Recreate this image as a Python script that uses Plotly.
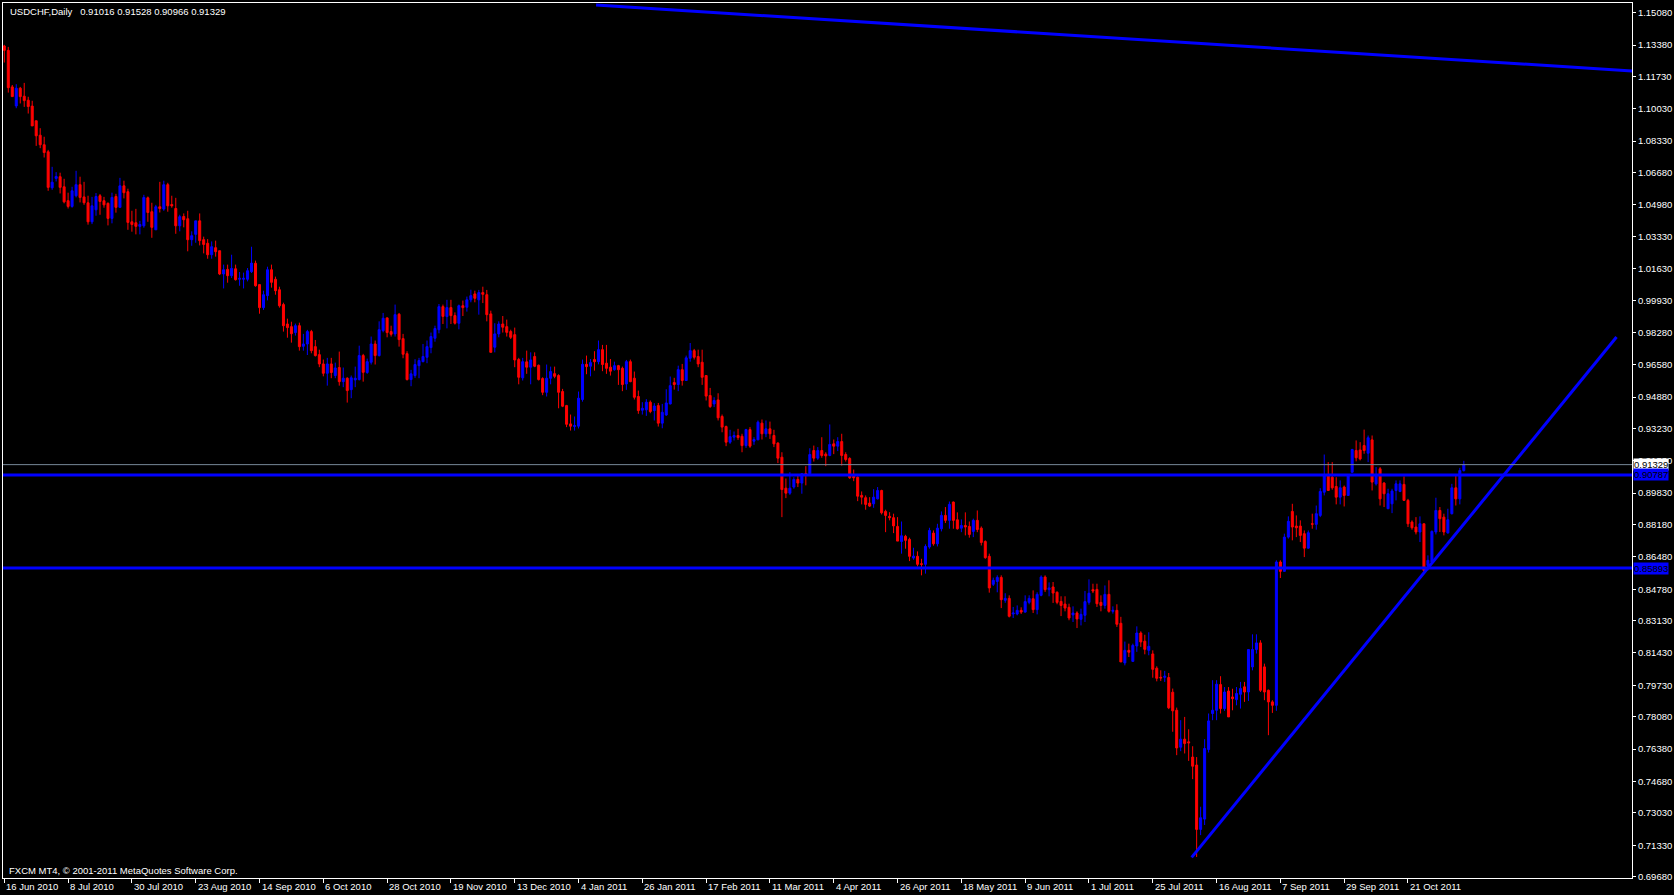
import plotly.graph_objects as go

# ---------------- data (USDCHF daily) ----------------
opens = [
    1.1333, 1.1310, 1.1118, 1.1018, 1.1111, 1.1069, 1.1048, 1.1017, 1.0940, 1.0864,
    1.0814, 1.0777, 1.0588, 1.0637, 1.0646, 1.0593, 1.0520, 1.0490, 1.0546, 1.0604,
    1.0540, 1.0509, 1.0409, 1.0472, 1.0546, 1.0520, 1.0506, 1.0427, 1.0542, 1.0485,
    1.0598, 1.0567, 1.0409, 1.0404, 1.0385, 1.0388, 1.0535, 1.0462, 1.0367, 1.0488,
    1.0476, 1.0604, 1.0500, 1.0479, 1.0388, 1.0437, 1.0425, 1.0315, 1.0343, 1.0414,
    1.0315, 1.0296, 1.0236, 1.0273, 1.0257, 1.0135, 1.0159, 1.0126, 1.0162, 1.0107,
    1.0107, 1.0107, 1.0147, 1.0191, 1.0079, 0.9958, 1.0021, 1.0157, 1.0107, 1.0052,
    0.9974, 0.9872, 0.9858, 0.9827, 0.9863, 0.9755, 0.9767, 0.9832, 0.9753, 0.9711,
    0.9662, 0.9613, 0.9662, 0.9601, 0.9643, 0.9569, 0.9587, 0.9527, 0.9578, 0.9580,
    0.9706, 0.9617, 0.9671, 0.9767, 0.9706, 0.9837, 0.9904, 0.9832, 0.9820, 0.9923,
    0.9795, 0.9716, 0.9580, 0.9601, 0.9653, 0.9674, 0.9697, 0.9748, 0.9797, 0.9842,
    0.9963, 0.9911, 0.9958, 0.9916, 0.9876, 0.9968, 0.9960, 0.9999, 1.0030, 0.9999,
    1.0037, 1.0026, 0.9925, 0.9750, 0.9820, 0.9872, 0.9858, 0.9832, 0.9816, 0.9685,
    0.9589, 0.9673, 0.9645, 0.9701, 0.9655, 0.9585, 0.9513, 0.9587, 0.9611, 0.9601,
    0.9517, 0.9443, 0.9347, 0.9333, 0.9335, 0.9475, 0.9660, 0.9650, 0.9685, 0.9674,
    0.9737, 0.9666, 0.9645, 0.9632, 0.9653, 0.9639, 0.9557, 0.9674, 0.9587, 0.9491,
    0.9419, 0.9421, 0.9461, 0.9417, 0.9443, 0.9351, 0.9394, 0.9452, 0.9564, 0.9554,
    0.9632, 0.9575, 0.9692, 0.9732, 0.9701, 0.9671, 0.9601, 0.9496, 0.9452, 0.9473,
    0.9386, 0.9333, 0.9251, 0.9277, 0.9286, 0.9282, 0.9233, 0.9317, 0.9256, 0.9263,
    0.9351, 0.9295, 0.9321, 0.9286, 0.9246, 0.9172, 0.9009, 0.8983, 0.9015, 0.9055,
    0.9036, 0.9085, 0.9085, 0.9207, 0.9167, 0.9207, 0.9188, 0.9181, 0.9242, 0.9230,
    0.9254, 0.9186, 0.9165, 0.9071, 0.9067, 0.8971, 0.8959, 0.8931, 0.8927, 0.8953,
    0.8997, 0.8887, 0.8861, 0.8854, 0.8808, 0.8729, 0.8756, 0.8740, 0.8642, 0.8651,
    0.8612, 0.8609, 0.8700, 0.8773, 0.8717, 0.8796, 0.8866, 0.8840, 0.8936, 0.8843,
    0.8799, 0.8813, 0.8808, 0.8782, 0.8840, 0.8799, 0.8729, 0.8651, 0.8504, 0.8519,
    0.8540, 0.8420, 0.8430, 0.8348, 0.8348, 0.8367, 0.8358, 0.8409, 0.8428, 0.8371,
    0.8446, 0.8542, 0.8476, 0.8490, 0.8462, 0.8414, 0.8400, 0.8383, 0.8343, 0.8353,
    0.8320, 0.8341, 0.8409, 0.8476, 0.8477, 0.8409, 0.8393, 0.8451, 0.8362, 0.8367,
    0.8299, 0.8091, 0.8157, 0.8099, 0.8180, 0.8248, 0.8205, 0.8157, 0.8138, 0.8063,
    0.8015, 0.8015, 0.8014, 0.7937, 0.7842, 0.7648, 0.7690, 0.7676, 0.7596, 0.7554,
    0.7216, 0.7270, 0.7636, 0.7825, 0.7842, 0.7977, 0.7851, 0.7943, 0.7912, 0.7898,
    0.7926, 0.7965, 0.7938, 0.8070, 0.8161, 0.8196, 0.8070, 0.7947, 0.7886, 0.7868,
    0.8621, 0.8572, 0.8752, 0.8887, 0.8810, 0.8810, 0.8770, 0.8694, 0.8822, 0.8819,
    0.8866, 0.8988, 0.9076, 0.9067, 0.9018, 0.8962, 0.9015, 0.8971, 0.9093, 0.9207,
    0.9210, 0.9233, 0.9193, 0.9263, 0.9032, 0.9111, 0.9036, 0.8901, 0.8927, 0.8997,
    0.8992, 0.9029, 0.8945, 0.8831, 0.8805, 0.8779, 0.8822, 0.8603, 0.8621, 0.8779,
    0.8892, 0.8857, 0.8774, 0.8875, 0.9011, 0.8953, 0.91016,
]

highs = [
    1.1339, 1.1328, 1.1128, 1.1132, 1.1118, 1.1139, 1.1066, 1.1045, 1.0940, 1.0901,
    1.0856, 1.0787, 1.0698, 1.0670, 1.0667, 1.0635, 1.0562, 1.0593, 1.0677, 1.0646,
    1.0619, 1.0546, 1.0540, 1.0560, 1.0555, 1.0540, 1.0511, 1.0562, 1.0556, 1.0640,
    1.0625, 1.0583, 1.0467, 1.0477, 1.0414, 1.0551, 1.0542, 1.0509, 1.0498, 1.0619,
    1.0625, 1.0614, 1.0546, 1.0535, 1.0446, 1.0453, 1.0467, 1.0359, 1.0414, 1.0453,
    1.0331, 1.0318, 1.0306, 1.0310, 1.0257, 1.0184, 1.0184, 1.0236, 1.0184, 1.0145,
    1.0142, 1.0166, 1.0278, 1.0205, 1.0079, 1.0047, 1.0173, 1.0184, 1.0121, 1.0068,
    0.9984, 0.9900, 0.9884, 0.9874, 0.9879, 0.9820, 0.9841, 0.9841, 0.9788, 0.9737,
    0.9685, 0.9694, 0.9694, 0.9669, 0.9727, 0.9643, 0.9592, 0.9601, 0.9648, 0.9758,
    0.9715, 0.9690, 0.9806, 0.9785, 0.9886, 0.9930, 0.9907, 0.9863, 0.9974, 0.9930,
    0.9820, 0.9729, 0.9631, 0.9687, 0.9694, 0.9767, 0.9785, 0.9827, 0.9863, 0.9977,
    0.9974, 0.9999, 0.9999, 0.9933, 0.9974, 0.9995, 1.0016, 1.0052, 1.0047, 1.0051,
    1.0068, 1.0051, 0.9942, 0.9876, 0.9886, 0.9914, 0.9895, 0.9842, 0.9853, 0.9694,
    0.9694, 0.9732, 0.9723, 0.9723, 0.9659, 0.9592, 0.9659, 0.9648, 0.9648, 0.9608,
    0.9531, 0.9447, 0.9396, 0.9386, 0.9517, 0.9685, 0.9706, 0.9688, 0.9729, 0.9785,
    0.9762, 0.9762, 0.9688, 0.9674, 0.9657, 0.9648, 0.9683, 0.9685, 0.9622, 0.9522,
    0.9461, 0.9477, 0.9470, 0.9456, 0.9457, 0.9452, 0.9529, 0.9596, 0.9589, 0.9653,
    0.9662, 0.9706, 0.9772, 0.9741, 0.9737, 0.9737, 0.9601, 0.9536, 0.9487, 0.9508,
    0.9396, 0.9338, 0.9316, 0.9307, 0.9321, 0.9295, 0.9321, 0.9330, 0.9277, 0.9365,
    0.9370, 0.9365, 0.9359, 0.9316, 0.9251, 0.9198, 0.9060, 0.9093, 0.9067, 0.9076,
    0.9088, 0.9125, 0.9219, 0.9233, 0.9225, 0.9277, 0.9198, 0.9344, 0.9265, 0.9277,
    0.9295, 0.9198, 0.9172, 0.9107, 0.9071, 0.8992, 0.8971, 0.8962, 0.9004, 0.9015,
    0.9001, 0.8896, 0.8883, 0.8875, 0.8857, 0.8834, 0.8764, 0.8749, 0.8696, 0.8677,
    0.8638, 0.8714, 0.8801, 0.8787, 0.8822, 0.8887, 0.8910, 0.8939, 0.8939, 0.8882,
    0.8845, 0.8882, 0.8834, 0.8849, 0.8892, 0.8808, 0.8735, 0.8665, 0.8539, 0.8551,
    0.8551, 0.8457, 0.8446, 0.8385, 0.8393, 0.8383, 0.8446, 0.8446, 0.8472, 0.8462,
    0.8551, 0.8551, 0.8514, 0.8516, 0.8467, 0.8441, 0.8441, 0.8402, 0.8388, 0.8362,
    0.8376, 0.8469, 0.8530, 0.8507, 0.8507, 0.8446, 0.8498, 0.8525, 0.8388, 0.8399,
    0.8333, 0.8203, 0.8192, 0.8192, 0.8283, 0.8257, 0.8239, 0.8252, 0.8157, 0.8073,
    0.8052, 0.8049, 0.8038, 0.7956, 0.7856, 0.7790, 0.7807, 0.7742, 0.7653, 0.7596,
    0.7335, 0.7690, 0.7825, 0.8000, 0.8000, 0.8021, 0.7964, 0.7964, 0.7955, 0.7964,
    0.7991, 0.7991, 0.8161, 0.8241, 0.8241, 0.8210, 0.8087, 0.7951, 0.7895, 0.8630,
    0.8630, 0.8770, 0.8861, 0.8927, 0.8866, 0.8840, 0.8787, 0.8787, 0.8875, 0.8918,
    0.9009, 0.9186, 0.9146, 0.9146, 0.9067, 0.9050, 0.9023, 0.9076, 0.9216, 0.9260,
    0.9251, 0.9317, 0.9286, 0.9286, 0.9120, 0.9120, 0.9041, 0.9006, 0.9006, 0.9050,
    0.9050, 0.9071, 0.8953, 0.8840, 0.8857, 0.8861, 0.8822, 0.8656, 0.8787, 0.8959,
    0.8910, 0.8875, 0.8901, 0.9032, 0.9076, 0.9116, 0.91528,
]

lows = [
    1.1246, 1.1088, 1.1067, 1.1006, 1.1031, 1.1013, 1.0978, 1.0913, 1.0808, 1.0796,
    1.0747, 1.0572, 1.0577, 1.0621, 1.0558, 1.0506, 1.0479, 1.0483, 1.0537, 1.0511,
    1.0498, 1.0394, 1.0397, 1.0441, 1.0446, 1.0483, 1.0390, 1.0401, 1.0457, 1.0485,
    1.0532, 1.0367, 1.0357, 1.0343, 1.0343, 1.0378, 1.0409, 1.0325, 1.0367, 1.0458,
    1.0467, 1.0462, 1.0483, 1.0346, 1.0359, 1.0380, 1.0254, 1.0283, 1.0299, 1.0285,
    1.0243, 1.0215, 1.0215, 1.0226, 1.0129, 1.0059, 1.0089, 1.0114, 1.0100, 1.0073,
    1.0059, 1.0096, 1.0140, 1.0068, 0.9926, 0.9946, 0.9996, 1.0063, 1.0026, 0.9958,
    0.9832, 0.9800, 0.9774, 0.9811, 0.9732, 0.9732, 0.9709, 0.9718, 0.9701, 0.9645,
    0.9597, 0.9548, 0.9587, 0.9587, 0.9548, 0.9540, 0.9459, 0.9482, 0.9540, 0.9575,
    0.9569, 0.9610, 0.9659, 0.9659, 0.9701, 0.9828, 0.9802, 0.9806, 0.9806, 0.9753,
    0.9692, 0.9575, 0.9545, 0.9589, 0.9587, 0.9671, 0.9666, 0.9718, 0.9779, 0.9823,
    0.9872, 0.9849, 0.9872, 0.9869, 0.9844, 0.9914, 0.9937, 0.9986, 0.9986, 0.9921,
    0.9982, 0.9886, 0.9723, 0.9723, 0.9802, 0.9827, 0.9806, 0.9793, 0.9645, 0.9555,
    0.9575, 0.9610, 0.9555, 0.9645, 0.9575, 0.9498, 0.9491, 0.9555, 0.9587, 0.9429,
    0.9435, 0.9330, 0.9312, 0.9312, 0.9323, 0.9464, 0.9608, 0.9597, 0.9627, 0.9660,
    0.9624, 0.9610, 0.9601, 0.9627, 0.9552, 0.9519, 0.9526, 0.9566, 0.9475, 0.9400,
    0.9396, 0.9389, 0.9403, 0.9365, 0.9333, 0.9324, 0.9389, 0.9449, 0.9527, 0.9519,
    0.9548, 0.9575, 0.9674, 0.9685, 0.9645, 0.9552, 0.9470, 0.9431, 0.9435, 0.9365,
    0.9303, 0.9230, 0.9242, 0.9260, 0.9263, 0.9198, 0.9221, 0.9221, 0.9237, 0.9263,
    0.9265, 0.9277, 0.9268, 0.9225, 0.9141, 0.8857, 0.8957, 0.8974, 0.9006, 0.9015,
    0.8980, 0.9024, 0.9081, 0.9149, 0.9158, 0.9169, 0.9125, 0.9177, 0.9188, 0.9204,
    0.9128, 0.9149, 0.9058, 0.9046, 0.8941, 0.8924, 0.8896, 0.8910, 0.8906, 0.8950,
    0.8871, 0.8778, 0.8840, 0.8773, 0.8731, 0.8665, 0.8691, 0.8626, 0.8633, 0.8598,
    0.8551, 0.8560, 0.8691, 0.8707, 0.8703, 0.8782, 0.8826, 0.8796, 0.8796, 0.8791,
    0.8778, 0.8761, 0.8749, 0.8752, 0.8778, 0.8708, 0.8638, 0.8460, 0.8495, 0.8462,
    0.8379, 0.8407, 0.8330, 0.8327, 0.8341, 0.8348, 0.8355, 0.8399, 0.8353, 0.8346,
    0.8441, 0.8464, 0.8441, 0.8406, 0.8399, 0.8337, 0.8362, 0.8315, 0.8306, 0.8274,
    0.8288, 0.8306, 0.8397, 0.8458, 0.8385, 0.8362, 0.8376, 0.8355, 0.8350, 0.8280,
    0.8096, 0.8078, 0.8122, 0.8096, 0.8149, 0.8175, 0.8136, 0.8131, 0.8013, 0.7994,
    0.7996, 0.7991, 0.7848, 0.7729, 0.7606, 0.7627, 0.7615, 0.7576, 0.7480, 0.7071,
    0.7186, 0.7239, 0.7620, 0.7790, 0.7790, 0.7825, 0.7839, 0.7807, 0.7842, 0.7868,
    0.7851, 0.7886, 0.7891, 0.8052, 0.8140, 0.7938, 0.7895, 0.7711, 0.7828, 0.7839,
    0.8537, 0.8572, 0.8744, 0.8735, 0.8752, 0.8726, 0.8647, 0.8691, 0.8796, 0.8791,
    0.8857, 0.8971, 0.8997, 0.9001, 0.8924, 0.8924, 0.8913, 0.8971, 0.9090, 0.9150,
    0.9155, 0.9190, 0.9146, 0.8997, 0.9023, 0.8918, 0.8910, 0.8901, 0.8878, 0.8945,
    0.8988, 0.8945, 0.8805, 0.8791, 0.8766, 0.8726, 0.8568, 0.8577, 0.8616, 0.8766,
    0.8779, 0.8761, 0.8770, 0.8871, 0.8918, 0.8924, 0.90966,
]

closes = [
    1.1310, 1.1114, 1.1067, 1.1111, 1.1067, 1.1046, 1.1015, 1.0913, 1.0861, 1.0814,
    1.0773, 1.0590, 1.0617, 1.0647, 1.0590, 1.0514, 1.0490, 1.0572, 1.0604, 1.0537,
    1.0509, 1.0409, 1.0493, 1.0542, 1.0516, 1.0498, 1.0427, 1.0537, 1.0485, 1.0598,
    1.0562, 1.0406, 1.0395, 1.0385, 1.0395, 1.0537, 1.0458, 1.0380, 1.0488, 1.0479,
    1.0604, 1.0493, 1.0493, 1.0388, 1.0436, 1.0420, 1.0315, 1.0336, 1.0414, 1.0310,
    1.0290, 1.0236, 1.0278, 1.0252, 1.0135, 1.0157, 1.0126, 1.0164, 1.0105, 1.0112,
    1.0112, 1.0152, 1.0192, 1.0073, 0.9958, 1.0026, 1.0157, 1.0091, 1.0047, 0.9968,
    0.9863, 0.9853, 0.9821, 0.9863, 0.9753, 0.9767, 0.9832, 0.9732, 0.9706, 0.9662,
    0.9613, 0.9662, 0.9617, 0.9641, 0.9569, 0.9587, 0.9522, 0.9589, 0.9587, 0.9706,
    0.9618, 0.9674, 0.9767, 0.9706, 0.9842, 0.9902, 0.9827, 0.9818, 0.9921, 0.9790,
    0.9713, 0.9580, 0.9610, 0.9659, 0.9680, 0.9701, 0.9753, 0.9806, 0.9848, 0.9963,
    0.9912, 0.9958, 0.9916, 0.9876, 0.9968, 0.9958, 0.9999, 1.0021, 1.0007, 1.0037,
    1.0028, 0.9921, 0.9723, 0.9820, 0.9872, 0.9855, 0.9828, 0.9802, 0.9683, 0.9592,
    0.9674, 0.9645, 0.9683, 0.9650, 0.9580, 0.9513, 0.9587, 0.9622, 0.9597, 0.9513,
    0.9440, 0.9345, 0.9335, 0.9338, 0.9482, 0.9660, 0.9648, 0.9669, 0.9674, 0.9737,
    0.9659, 0.9639, 0.9624, 0.9653, 0.9632, 0.9554, 0.9674, 0.9569, 0.9487, 0.9417,
    0.9429, 0.9461, 0.9412, 0.9441, 0.9351, 0.9408, 0.9457, 0.9548, 0.9554, 0.9632,
    0.9575, 0.9694, 0.9732, 0.9697, 0.9662, 0.9592, 0.9493, 0.9438, 0.9470, 0.9379,
    0.9330, 0.9251, 0.9280, 0.9286, 0.9275, 0.9233, 0.9317, 0.9230, 0.9265, 0.9356,
    0.9295, 0.9321, 0.9295, 0.9242, 0.9167, 0.9002, 0.8983, 0.9009, 0.9055, 0.9036,
    0.9085, 0.9083, 0.9186, 0.9167, 0.9207, 0.9181, 0.9179, 0.9239, 0.9230, 0.9254,
    0.9181, 0.9160, 0.9064, 0.9064, 0.8967, 0.8962, 0.8924, 0.8915, 0.8962, 0.8997,
    0.8880, 0.8866, 0.8854, 0.8811, 0.8731, 0.8759, 0.8735, 0.8651, 0.8652, 0.8609,
    0.8609, 0.8703, 0.8787, 0.8717, 0.8799, 0.8866, 0.8840, 0.8924, 0.8840, 0.8796,
    0.8813, 0.8805, 0.8766, 0.8840, 0.8792, 0.8724, 0.8644, 0.8485, 0.8525, 0.8540,
    0.8423, 0.8430, 0.8336, 0.8353, 0.8367, 0.8358, 0.8413, 0.8430, 0.8371, 0.8451,
    0.8542, 0.8476, 0.8485, 0.8458, 0.8409, 0.8393, 0.8379, 0.8327, 0.8353, 0.8322,
    0.8346, 0.8413, 0.8457, 0.8469, 0.8402, 0.8393, 0.8451, 0.8362, 0.8367, 0.8294,
    0.8096, 0.8157, 0.8147, 0.8183, 0.8248, 0.8201, 0.8162, 0.8178, 0.8057, 0.8010,
    0.8012, 0.8021, 0.7855, 0.7839, 0.7644, 0.7690, 0.7667, 0.7671, 0.7548, 0.7216,
    0.7277, 0.7641, 0.7786, 0.7842, 0.7979, 0.7851, 0.7938, 0.7807, 0.7903, 0.7930,
    0.7956, 0.7938, 0.8161, 0.8161, 0.8196, 0.7947, 0.7938, 0.7886, 0.7868, 0.8621,
    0.8572, 0.8752, 0.8835, 0.8805, 0.8801, 0.8761, 0.8694, 0.8775, 0.8820, 0.8875,
    0.8992, 0.9076, 0.8997, 0.9011, 0.8962, 0.9011, 0.8971, 0.9076, 0.9212, 0.9169,
    0.9163, 0.9207, 0.9274, 0.9041, 0.9076, 0.8953, 0.8980, 0.8980, 0.8994, 0.9032,
    0.9032, 0.8945, 0.8822, 0.8801, 0.8779, 0.8822, 0.8577, 0.8630, 0.8782, 0.8892,
    0.8849, 0.8779, 0.8843, 0.9011, 0.8953, 0.9102, 0.91329,
]

date_labels = [
    "16 Jun 2010", "8 Jul 2010", "30 Jul 2010", "23 Aug 2010", "14 Sep 2010",
    "6 Oct 2010", "28 Oct 2010", "19 Nov 2010", "13 Dec 2010", "4 Jan 2011",
    "26 Jan 2011", "17 Feb 2011", "11 Mar 2011", "4 Apr 2011", "26 Apr 2011",
    "18 May 2011", "9 Jun 2011", "1 Jul 2011", "25 Jul 2011", "16 Aug 2011",
    "7 Sep 2011", "29 Sep 2011", "21 Oct 2011",
]
bars_per_label = 16

price_ticks = [
    1.15080, 1.13380, 1.11730, 1.10030, 1.08330, 1.06680, 1.04980, 1.03330,
    1.01630, 0.99930, 0.98280, 0.96580, 0.94880, 0.93230, 0.91530, 0.89830,
    0.88180, 0.86480, 0.84780, 0.83130, 0.81430, 0.79730, 0.78080, 0.76380,
    0.74680, 0.73030, 0.71330, 0.69680,
]

bid_price = 0.91329
level_lines = [0.90787, 0.85893]

# trend lines: (bar index, price) end points
trend_top_x = [148.4, 408.3]
trend_top_y = [1.1548, 1.1202]
trend_up_x = [297.75, 404.3]
trend_up_y = [0.7069, 0.9804]

title_text = "USDCHF,Daily\u00a0\u00a0 0.91016 0.91528 0.90966 0.91329"
copyright_text = "FXCM MT4, \u00a9 2001-2011 MetaQuotes Software Corp."

# ---------------- layout geometry ----------------
W, H = 1674, 895
ML, MR, MT, MB = 2, 38, 2, 17
PW, PH = W - ML - MR, H - MT - MB
BAR_PX = 4.0
FIRST_BAR_PX = 3.3
x_range = [(ML - FIRST_BAR_PX) / BAR_PX, (W - MR - FIRST_BAR_PX) / BAR_PX]
y_range = [0.69605, 1.15589]

FONT = "Liberation Sans, Arial, sans-serif"
FS = 9.5


def px_x(px):
    return (px - ML) / PW


def px_y(py):
    return 1 - (py - MT) / PH


bars = list(range(len(closes)))

fig = go.Figure()

fig.add_trace(go.Candlestick(
    x=bars, open=opens, high=highs, low=lows, close=closes,
    increasing=dict(line=dict(color="#0000ff", width=1), fillcolor="#0000ff"),
    decreasing=dict(line=dict(color="#ff0000", width=1), fillcolor="#ff0000"),
    whiskerwidth=0, hoverinfo="skip", showlegend=False,
))

# bid line
fig.add_shape(type="line", xref="paper", yref="y", x0=0, x1=1,
              y0=bid_price, y1=bid_price, line=dict(color="#778899", width=1),
              layer="above")
# horizontal levels
for lv in level_lines:
    fig.add_shape(type="line", xref="paper", yref="y", x0=0, x1=1,
                  y0=lv, y1=lv, line=dict(color="#0000ff", width=3),
                  layer="above")

fig.add_trace(go.Scatter(x=trend_top_x, y=trend_top_y, mode="lines",
                         line=dict(color="#0000ff", width=3),
                         hoverinfo="skip", showlegend=False))
fig.add_trace(go.Scatter(x=trend_up_x, y=trend_up_y, mode="lines",
                         line=dict(color="#0000ff", width=3),
                         hoverinfo="skip", showlegend=False))

annotations = []
# date labels (left aligned next to their tick)
for k, lab in enumerate(date_labels):
    annotations.append(dict(
        x=k * bars_per_label, xref="x", y=px_y(887), yref="paper",
        text=lab, showarrow=False, xanchor="left", yanchor="middle",
        xshift=0, font=dict(family=FONT, size=FS, color="#ffffff"),
    ))

# title & copyright
annotations.append(dict(
    x=px_x(7), xref="paper", y=px_y(10.5), yref="paper", text=title_text,
    showarrow=False, xanchor="left", yanchor="middle",
    font=dict(family=FONT, size=FS, color="#ffffff"),
))
annotations.append(dict(
    x=px_x(6), xref="paper", y=px_y(870), yref="paper", text=copyright_text,
    showarrow=False, xanchor="left", yanchor="middle",
    font=dict(family=FONT, size=FS, color="#ffffff"),
))

# price boxes on the right axis
annotations.append(dict(
    x=1, xref="paper", y=bid_price, yref="y", text=f"{bid_price:.5f}",
    showarrow=False, xanchor="left", yanchor="middle", xshift=1,
    bgcolor="#ffffff", borderpad=0,
    font=dict(family=FONT, size=FS, color="#000000"),
))
for lv in level_lines:
    annotations.append(dict(
        x=1, xref="paper", y=lv, yref="y", text=f"{lv:.5f}",
        showarrow=False, xanchor="left", yanchor="middle", xshift=1,
        bgcolor="#0000ff", borderpad=0,
        font=dict(family=FONT, size=FS, color="#000000"),
    ))

fig.update_layout(
    width=W, height=H,
    margin=dict(l=ML, r=MR, t=MT, b=MB, pad=0),
    paper_bgcolor="#000000", plot_bgcolor="#000000",
    font=dict(family=FONT, size=FS, color="#ffffff"),
    boxgap=0.5, boxgroupgap=0,
    showlegend=False,
    annotations=annotations,
    xaxis=dict(
        range=x_range, showgrid=False, zeroline=False,
        rangeslider=dict(visible=False),
        showline=True, linecolor="#ffffff", linewidth=1, mirror=True,
        ticks="outside", ticklen=4, tickcolor="#ffffff", tickwidth=1,
        tickvals=[k * bars_per_label for k in range(len(date_labels))],
        showticklabels=False, fixedrange=True,
    ),
    yaxis=dict(
        range=y_range, side="right", showgrid=False, zeroline=False,
        showline=True, linecolor="#ffffff", linewidth=1, mirror=True,
        ticks="outside", ticklen=3, tickcolor="#ffffff", tickwidth=1,
        tickvals=price_ticks, ticktext=[f"{p:.5f}" for p in price_ticks],
        tickfont=dict(family=FONT, size=FS, color="#ffffff"),
        fixedrange=True,
    ),
)

page_fix = ("document.body.style.margin='0';"
            "document.body.style.padding='0';"
            "document.body.style.overflow='hidden';"
            "document.body.style.background='#000000';")

fig.write_html("out.html", post_script=page_fix,
               config={"displayModeBar": False})
